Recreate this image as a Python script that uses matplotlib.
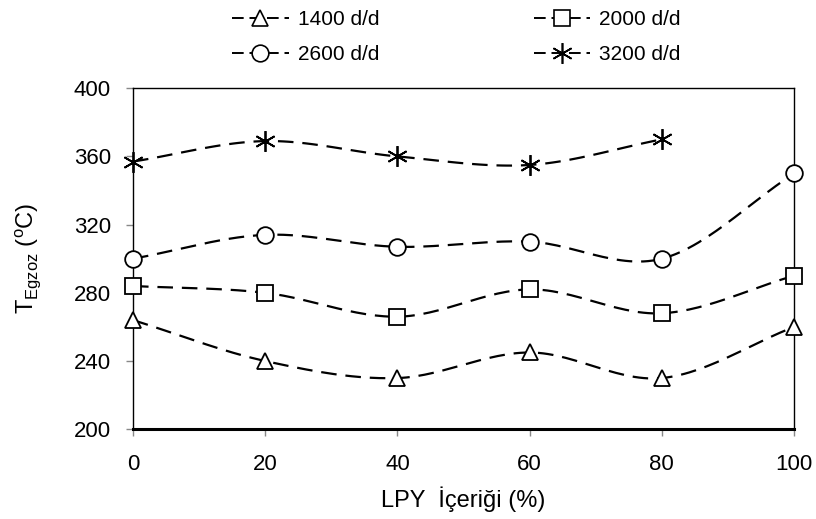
import numpy as np
import matplotlib
matplotlib.use("Agg")
from matplotlib import pyplot as plt
from matplotlib.lines import Line2D

plt.rcParams['font.family'] = ['Liberation Sans', 'DejaVu Sans']
plt.rcParams['mathtext.fontset'] = 'custom'
plt.rcParams['mathtext.rm'] = 'Liberation Sans'

# data
lpy = [0, 20, 40, 60, 80, 100]
t_1400 = [264, 240, 230, 245, 230, 260]
t_2000 = [284, 280, 266, 282, 268, 290]
t_2600 = [300, 314, 307, 310, 300, 350]
t_3200 = [357, 369, 360, 355, 370]
labels = ['1400 d/d', '2000 d/d', '2600 d/d', '3200 d/d']


def smooth(x, y, n=30):
	# catmull-rom curve through the points, like the excel smoothed line
	x = np.asarray(x, float)
	y = np.asarray(y, float)
	px = np.concatenate([[2 * x[0] - x[1]], x, [2 * x[-1] - x[-2]]])
	py = np.concatenate([[2 * y[0] - y[1]], y, [2 * y[-1] - y[-2]]])
	xs, ys = [], []
	t = np.linspace(0, 1, n)
	for i in range(1, len(px) - 2):
		for p, out in ((px, xs), (py, ys)):
			p0, p1, p2, p3 = p[i - 1], p[i], p[i + 1], p[i + 2]
			out.extend(0.5 * ((2 * p1) + (-p0 + p2) * t
				+ (2 * p0 - 5 * p1 + 4 * p2 - p3) * t ** 2
				+ (-p0 + 3 * p1 - 3 * p2 + p3) * t ** 3))
	return xs, ys


STAR = (6, 2, 0)
markers = ['^', 's', 'o', STAR]
sizes = [12, 11, 12, 15]
series = [t_1400, t_2000, t_2600, t_3200]

fig = plt.figure(figsize=(8.16, 5.19), dpi=100)
ax = fig.add_axes([0.163, 0.173, 0.81, 0.657])

handles = []
for vals, m, ms, lab in zip(series, markers, sizes, labels):
	xs = lpy[:len(vals)]
	sx, sy = smooth(xs, vals)
	ax.plot(sx, sy, color='black', lw=1.6, dashes=(7, 4), zorder=2)
	fc = 'none' if m == STAR else 'white'
	ax.plot(xs, vals, ls='none', marker=m, ms=ms,
		mfc=fc, mec='black', mew=1.3, zorder=3, clip_on=False)
	handles.append(Line2D([], [], color='black', lw=1.4, dashes=(6, 3),
		marker=m, ms=ms, mfc=fc, mec='black', mew=1.2, label=lab))

ax.set_xlim(0, 100)
ax.set_ylim(200, 400)
ax.set_xticks([0, 20, 40, 60, 80, 100])
ax.set_yticks([200, 240, 280, 320, 360, 400])
ax.tick_params(labelsize=16, direction='out', length=5, width=1,
	color='#888888', pad=11)
ax.tick_params(axis='x', pad=13)
for s in ['top', 'right', 'left']:
	ax.spines[s].set_linewidth(1)
ax.spines['bottom'].set_linewidth(2.2)

ax.set_xlabel('LPY  İçeriği (%)', fontsize=17, labelpad=8)
ax.set_ylabel(r'T$_{\mathrm{Egzoz}}$ ($^{\mathrm{o}}$C)', fontsize=17, labelpad=22)

# row-wise order: 1400 2000 / 2600 3200
order = [0, 2, 1, 3]
fig.legend(handles=[handles[i] for i in order], loc='upper left',
	bbox_to_anchor=(0.272, 1.0), ncol=2, frameon=False, fontsize=15,
	borderpad=0, columnspacing=7.4, handlelength=2.7,
	handletextpad=0.45, labelspacing=0.75)

fig.savefig('out.png', dpi=100)
